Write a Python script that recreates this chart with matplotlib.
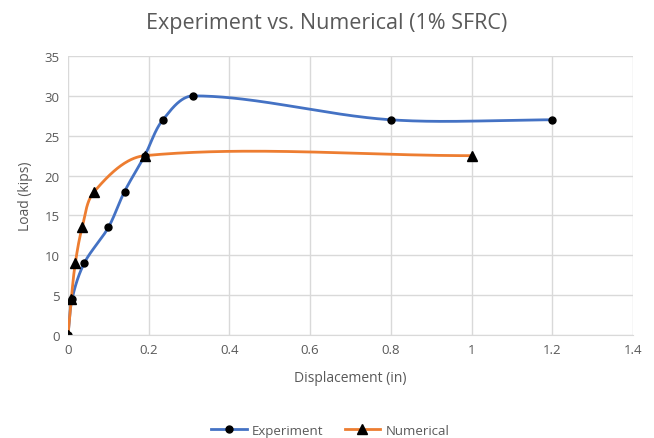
import matplotlib

matplotlib.use("Agg")

import matplotlib.pyplot as plt
import numpy as np

exp_disp = [0, 0.01, 0.04, 0.10, 0.14, 0.19, 0.235, 0.31, 0.80, 1.20]
exp_load = [0, 4.5, 9, 13.5, 18, 22.5, 27, 30, 27, 27]
num_disp = [0, 0.008, 0.018, 0.035, 0.065, 0.19, 1.00]
num_load = [0, 4.5, 9, 13.5, 18, 22.5, 22.5]
x_ticks = [0, 0.2, 0.4, 0.6, 0.8, 1, 1.2, 1.4]
x_tick_labels = ["0", "0.2", "0.4", "0.6", "0.8", "1", "1.2", "1.4"]
y_ticks = [0, 5, 10, 15, 20, 25, 30, 35]

GRAY = "#595959"


def smooth(xs, ys, sx, sy, n=60):
    # Excel-like smoothed line: bezier segments, handles scaled by segment length
    p = np.column_stack([np.asarray(xs) * sx, np.asarray(ys) * sy])
    pts = np.vstack([p[0], p, p[-1]])
    out = []
    t = np.linspace(0, 1, n)[:, None]

    def handle(a, b, c, seg):
        d = c - a
        la = np.linalg.norm(b - a) + np.linalg.norm(c - b)
        if la == 0:
            return np.zeros(2)
        return d / la * seg / 3

    for i in range(1, len(pts) - 2):
        p0, p1, p2, p3 = pts[i - 1], pts[i], pts[i + 1], pts[i + 2]
        seg = np.linalg.norm(p2 - p1)
        c1 = p1 + handle(p0, p1, p2, seg)
        c2 = p2 - handle(p1, p2, p3, seg)
        curve = ((1 - t) ** 3) * p1 + 3 * ((1 - t) ** 2) * t * c1 + 3 * (1 - t) * t ** 2 * c2 + t ** 3 * p2
        out.append(curve)
    out = np.vstack(out)
    return out[:, 0] / sx, out[:, 1] / sy


plt.rcParams["font.family"] = ["Open Sans", "DejaVu Sans"]

fig = plt.figure(figsize=(6.54, 4.39), dpi=100)
ax = fig.add_axes([0.104, 0.2346, 0.864, 0.6355])

sx, sy = 565 / 1.4, 279 / 35
ex, ey = smooth(exp_disp, exp_load, sx, sy)
nx, ny = smooth(num_disp, num_load, sx, sy)

ax.plot(ex, ey, color="#4472C4", linewidth=2)
ax.plot(nx, ny, color="#ED7D31", linewidth=2)
ax.plot(exp_disp, exp_load, linestyle="none", marker="o", markersize=5, color="black")
ax.plot(num_disp, num_load, linestyle="none", marker="^", markersize=6.5, color="black")

ax.set_xlim(0, 1.4)
ax.set_ylim(0, 35)
ax.set_xticks(x_ticks)
ax.set_xticklabels(x_tick_labels)
ax.set_yticks(y_ticks)
ax.grid(color="#d9d9d9", linewidth=1)
ax.set_axisbelow(True)
for side in ["top", "right", "left"]:
    ax.spines[side].set_visible(False)
ax.spines["bottom"].set_color("#d9d9d9")
ax.tick_params(length=0, colors=GRAY, labelsize=9.5, pad=6)

ax.set_xlabel("Displacement (in)", color=GRAY, fontsize=10, labelpad=10)
ax.set_ylabel("Load (kips)", color=GRAY, fontsize=10, labelpad=8)
fig.suptitle("Experiment vs. Numerical (1% SFRC)", color=GRAY, fontsize=15.5, y=0.97)

h1, = ax.plot([], [], color="#4472C4", linewidth=2, marker="o", markersize=5,
              markerfacecolor="black", markeredgecolor="black")
h2, = ax.plot([], [], color="#ED7D31", linewidth=2, marker="^", markersize=6.5,
              markerfacecolor="black", markeredgecolor="black")
leg = fig.legend([h1, h2], ["Experiment", "Numerical"], loc="center",
                 bbox_to_anchor=(0.505, 0.018), ncol=2, frameon=False,
                 fontsize=9.5, handlelength=2.7, handletextpad=0.4, columnspacing=1.6)
for txt in leg.get_texts():
    txt.set_color(GRAY)

fig.savefig("out.png", dpi=100)
